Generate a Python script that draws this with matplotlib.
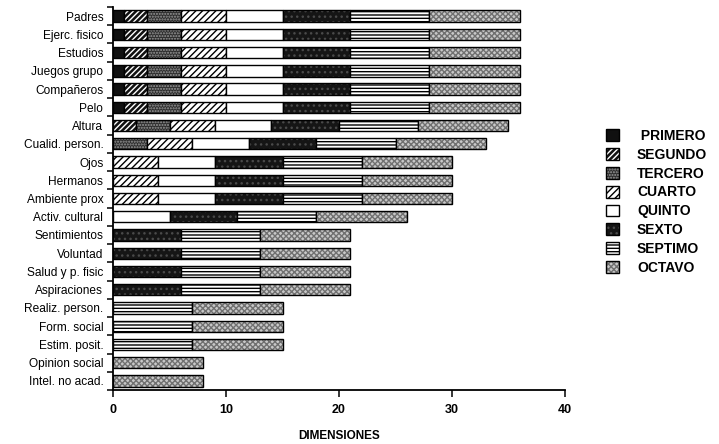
import numpy as np
import matplotlib
matplotlib.use("Agg")
import matplotlib.pyplot as plt
from matplotlib.patches import Patch

plt.rcParams['hatch.linewidth'] = 1.0

categories = ["Padres", "Ejerc. fisico", "Estudios", "Juegos grupo", "Compañeros",
              "Pelo", "Altura", "Cualid. person.", "Ojos", "Hermanos", "Ambiente prox",
              "Activ. cultural", "Sentimientos", "Voluntad", "Salud y p. fisic",
              "Aspiraciones", "Realiz. person.", "Form. social", "Estim. posit.",
              "Opinion social", "Intel. no acad."]

series_names = ["PRIMERO", "SEGUNDO", "TERCERO", "CUARTO", "QUINTO", "SEXTO", "SEPTIMO", "OCTAVO"]

primero = [1, 1, 1, 1, 1, 1, 0, 0, 0, 0, 0, 0, 0, 0, 0, 0, 0, 0, 0, 0, 0]
segundo = [2, 2, 2, 2, 2, 2, 2, 0, 0, 0, 0, 0, 0, 0, 0, 0, 0, 0, 0, 0, 0]
tercero = [3, 3, 3, 3, 3, 3, 3, 3, 0, 0, 0, 0, 0, 0, 0, 0, 0, 0, 0, 0, 0]
cuarto  = [4, 4, 4, 4, 4, 4, 4, 4, 4, 4, 4, 0, 0, 0, 0, 0, 0, 0, 0, 0, 0]
quinto  = [5, 5, 5, 5, 5, 5, 5, 5, 5, 5, 5, 5, 0, 0, 0, 0, 0, 0, 0, 0, 0]
sexto   = [6, 6, 6, 6, 6, 6, 6, 6, 6, 6, 6, 6, 6, 6, 6, 6, 0, 0, 0, 0, 0]
septimo = [7, 7, 7, 7, 7, 7, 7, 7, 7, 7, 7, 7, 7, 7, 7, 7, 7, 7, 7, 0, 0]
octavo  = [8, 8, 8, 8, 8, 8, 8, 8, 8, 8, 8, 8, 8, 8, 8, 8, 8, 8, 8, 8, 8]

xticks = [0, 10, 20, 30, 40]

series = [primero, segundo, tercero, cuarto, quinto, sexto, septimo, octavo]
# (facecolor, hatch, hatchcolor)
styles = [
    ("#101010", None, None),
    ("#111111", "//////", "white"),
    ("#2e2e2e", "......", "#9a9a9a"),
    ("white", "/////", "black"),
    ("white", None, None),
    ("#151515", "...", "#4a4a4a"),
    ("white", "-----", "black"),
    ("#c8c8c8", "xxxxxx", "#707070"),
]

label_font = ["Liberation Sans", "DejaVu Sans"]
bold_font = ["Liberation Sans", "DejaVu Sans"]

fig = plt.figure(figsize=(7.19, 4.44), dpi=100)
ax = fig.add_axes([0.1572, 0.1216, 0.6286, 0.8626])

y = np.arange(len(categories))
left = np.zeros(len(categories))
h = 0.62
for vals, (fc, hatch, hc) in zip(series, styles):
    v = np.array(vals, dtype=float)
    m = v > 0
    ax.barh(y[m], v[m], left=left[m], height=h, color=fc, edgecolor="none", linewidth=0)
    if hatch:
        ax.barh(y[m], v[m], left=left[m], height=h, color="none", edgecolor=hc,
                hatch=hatch, linewidth=0)
    ax.barh(y[m], v[m], left=left[m], height=h, fill=False, edgecolor="black", linewidth=1.0)
    left = left + v

ax.set_xlim(0, 40)
ax.set_ylim(len(categories) - 0.5, -0.5)
ax.set_xticks(xticks)
ax.set_xticklabels([str(t) for t in xticks], fontweight="bold", family=bold_font, fontsize=9)
ax.set_yticks(y)
ax.set_yticklabels(categories, family=label_font, fontsize=8.6)
ax.set_yticks(np.arange(len(categories) + 1) - 0.5, minor=True)
ax.tick_params(axis="y", which="major", length=0, pad=7)
ax.tick_params(axis="y", which="minor", length=4, width=1.1, direction="out")
ax.tick_params(axis="x", which="major", length=5, width=1.1, direction="out", pad=5)
for s in ["top", "right"]:
    ax.spines[s].set_visible(False)
for s in ["left", "bottom"]:
    ax.spines[s].set_linewidth(1.3)
ax.set_xlabel("DIMENSIONES", fontweight="bold", family=bold_font, fontsize=8.5, labelpad=10)

handles = []
for fc, hatch, hc in styles:
    base = Patch(facecolor=fc, edgecolor="none", linewidth=0)
    parts = [base]
    if hatch:
        parts.append(Patch(facecolor="none", edgecolor=hc, hatch=hatch, linewidth=0))
    parts.append(Patch(fill=False, edgecolor="black", linewidth=1.0))
    handles.append(tuple(parts))
labels = [" " + series_names[0]] + series_names[1:]
leg = fig.legend(handles, labels, loc="upper left", bbox_to_anchor=(0.825, 0.738),
                 frameon=False, handlelength=0.95, handleheight=0.95, handletextpad=1.3,
                 labelspacing=0.35, prop={"family": bold_font, "weight": "bold", "size": 10})

fig.savefig("out.png", dpi=100)
